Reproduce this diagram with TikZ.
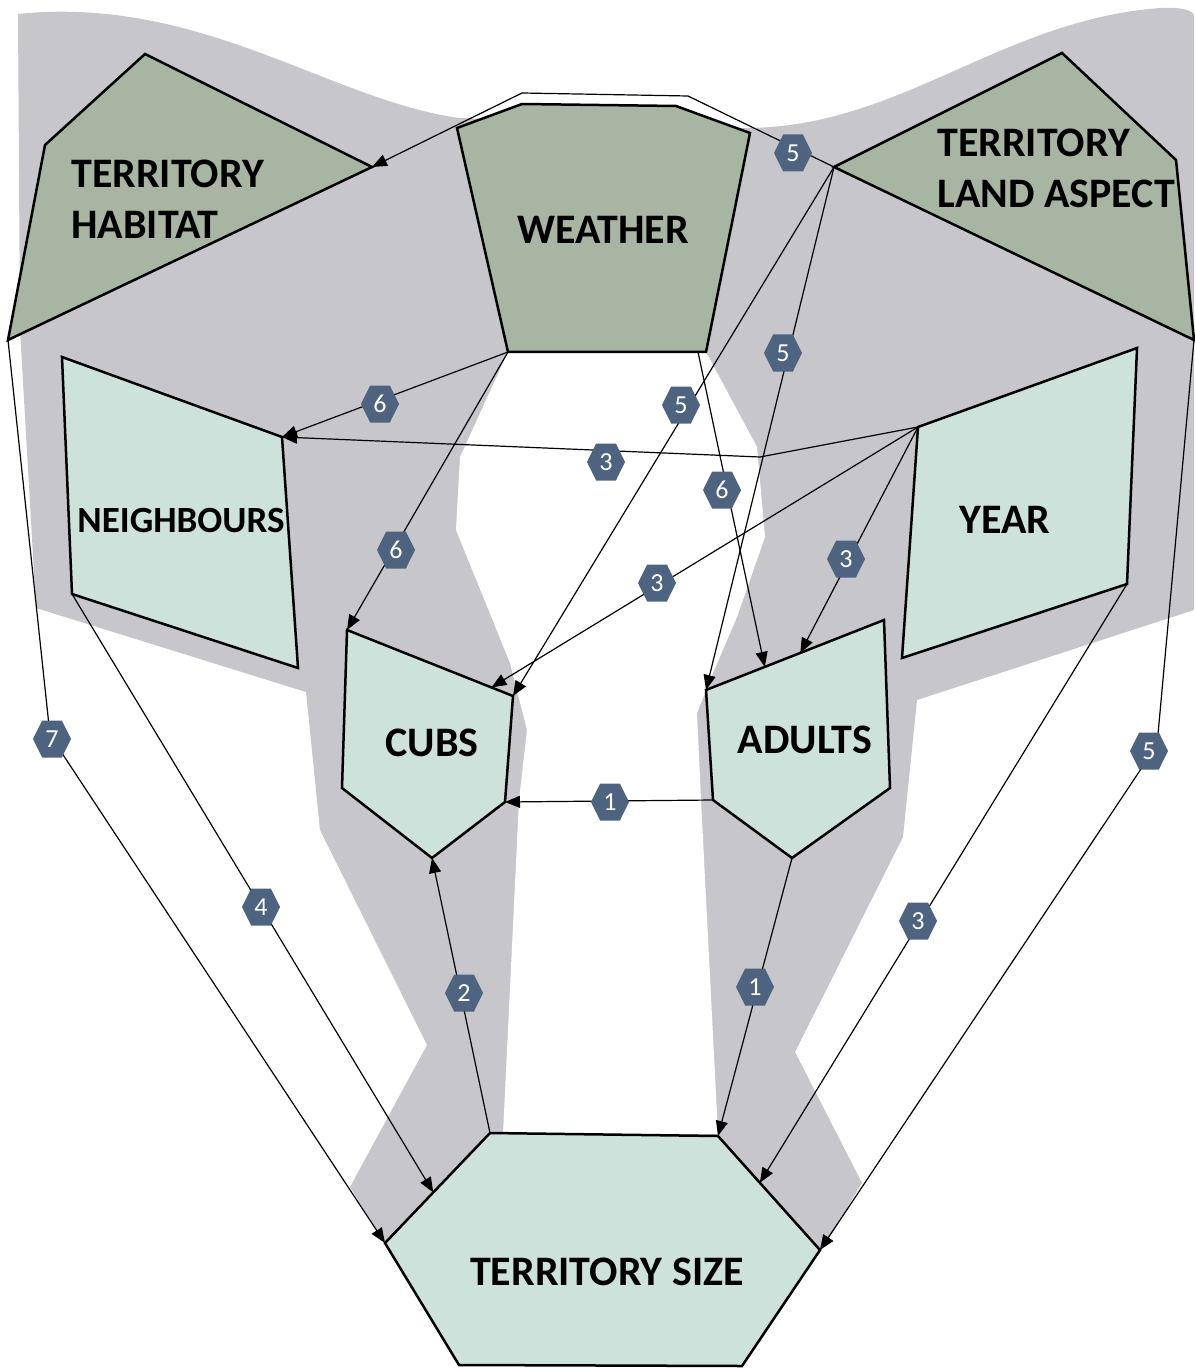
\documentclass[tikz,border=0pt]{standalone}
\usepackage{fontspec}
\setmainfont{Carlito}
\usetikzlibrary{arrows.meta,calc}

\definecolor{maskgray}{RGB}{199,198,203}
\definecolor{sage}{RGB}{168,181,163}
\definecolor{mint}{RGB}{204,226,218}
\definecolor{badgeblue}{RGB}{77,99,128}

\begin{document}
\begin{tikzpicture}[x=0.5pt,y=-0.5pt,
  shapeline/.style={draw=black, line width=1.25pt, line join=miter},
  factor/.style={shapeline, fill=sage},
  group/.style={shapeline, fill=mint},
  lbl/.style={font=\bfseries\fontsize{21}{25.5}\selectfont, inner sep=0pt, align=left},
  smalllbl/.style={lbl, font=\bfseries\fontsize{18.5}{22}\selectfont},
  conn/.style={draw=black, line width=0.6pt, -{Triangle[length=7.5pt,width=6pt]}},
  badge/.style={minimum width=19pt, minimum height=18.5pt, inner sep=0pt,
    text=white, font=\fontsize{13}{13}\selectfont,
    path picture={\fill[badgeblue]
      (path picture bounding box.west)
      -- ($(path picture bounding box.north west)!0.24!(path picture bounding box.north east)$)
      -- ($(path picture bounding box.north west)!0.76!(path picture bounding box.north east)$)
      -- (path picture bounding box.east)
      -- ($(path picture bounding box.south west)!0.76!(path picture bounding box.south east)$)
      -- ($(path picture bounding box.south west)!0.24!(path picture bounding box.south east)$)
      -- cycle;}}
]
\useasboundingbox (0,0) rectangle (1194,1369);

% grey mask behind the model
\fill[maskgray] (18,14) .. controls (200,-5) and (330,100) .. (459,118)
  -- (745,128) .. controls (900,128) and (1000,20) .. (1160,8)
  .. controls (1180,7) and (1194,10) .. (1194,16)
  -- (1194,610) -- (917,700) -- (903,837) -- (795,1052) -- (862,1183)
  -- (820,1252) -- (385,1245) -- (350,1187) -- (427,1045) -- (320,830)
  -- (306,692) -- (36,608) -- (20,330) -- cycle;
% open centre of the mask
\fill[white] (508,352) -- (460,457) -- (456,530) -- (510,663) -- (527,730)
  -- (519,800) -- (503,1134) -- (718,1134) -- (701,800) -- (697,713)
  -- (713,673) -- (737,617) -- (765,537) -- (757,447) -- (706,352) -- cycle;

% corner points of the boxes
\coordinate (hab-t) at (145,54);
\coordinate (hab-r) at (372,167);
\coordinate (hab-bl) at (8,340);
\coordinate (hab-l) at (45,145);

\coordinate (wea-tl) at (457,128);
\coordinate (wea-t1) at (522,104);
\coordinate (wea-t2) at (676,106);
\coordinate (wea-tr) at (750,133);
\coordinate (wea-br) at (706,352);
\coordinate (wea-bl) at (508,352);
\coordinate (wea-bo) at (698,352);

\coordinate (la-t) at (1062,53);
\coordinate (la-tr) at (1176,160);
\coordinate (la-br) at (1194,340);
\coordinate (la-l) at (834,167);

\coordinate (nb-tl) at (62,357);
\coordinate (nb-tr) at (282,437);
\coordinate (nb-br) at (298,668);
\coordinate (nb-bl) at (72,594);

\coordinate (yr-tr) at (1137,348);
\coordinate (yr-br) at (1127,584);
\coordinate (yr-bl) at (902,658);
\coordinate (yr-tl) at (918,427);

\coordinate (cb-tl) at (347,630);
\coordinate (cb-tr) at (513,696);
\coordinate (cb-r) at (505,802);
\coordinate (cb-b) at (432,858);
\coordinate (cb-l) at (342,788);

\coordinate (ad-tl) at (706,690);
\coordinate (ad-tr) at (884,620);
\coordinate (ad-r) at (890,788);
\coordinate (ad-b) at (792,858);
\coordinate (ad-l) at (713,800);

\coordinate (ts-tl) at (490,1133);
\coordinate (ts-tr) at (718,1136);
\coordinate (ts-r) at (820,1250);
\coordinate (ts-br) at (742,1366);
\coordinate (ts-bl) at (459,1365);
\coordinate (ts-l) at (385,1243);

% boxes
\path[factor] (hab-t) -- (hab-r) -- (hab-bl) -- (hab-l) -- cycle;
\path[factor] (wea-tl) -- (wea-t1) -- (wea-t2) -- (wea-tr) -- (wea-br) -- (wea-bl) -- cycle;
\path[factor] (la-t) -- (la-tr) -- (la-br) -- (la-l) -- cycle;
\path[group] (nb-tl) -- (nb-tr) -- (nb-br) -- (nb-bl) -- cycle;
\path[group] (yr-tr) -- (yr-br) -- (yr-bl) -- (yr-tl) -- cycle;
\path[group] (cb-tl) -- (cb-tr) -- (cb-r) -- (cb-b) -- (cb-l) -- cycle;
\path[group] (ad-tl) -- (ad-tr) -- (ad-r) -- (ad-b) -- (ad-l) -- cycle;
\path[group] (ts-tl) -- (ts-tr) -- (ts-r) -- (ts-br) -- (ts-bl) -- (ts-l) -- cycle;

% labels
\node[lbl, anchor=west] (hab-txt) at (71,199) {TERRITORY\\HABITAT};
\node[lbl] (wea-txt) at (603,230) {WEATHER};
\node[lbl, anchor=west] (la-txt) at (937,168) {TERRITORY\\LAND ASPECT};
\node[smalllbl] (nb-txt) at (181,521) {NEIGHBOURS};
\node[lbl] (yr-txt) at (1005,520) {YEAR};
\node[lbl] (cb-txt) at (432,743) {CUBS};
\node[lbl] (ad-txt) at (805,740) {ADULTS};
\node[lbl] (ts-txt) at (607,1272) {TERRITORY SIZE};

% arrow ends on box edges and bends
\coordinate (cb-in3) at ($(cb-tl)!0.87!(cb-tr)$);
\coordinate (ad-in6) at ($(ad-tl)!0.33!(ad-tr)$);
\coordinate (ad-in3) at ($(ad-tl)!0.53!(ad-tr)$);
\coordinate (ts-in4) at ($(ts-tl)!0.54!(ts-l)$);
\coordinate (ts-in3) at ($(ts-tr)!0.41!(ts-r)$);
\coordinate (over-r) at (688,96);
\coordinate (over-l) at (522,93);
\coordinate (yr-bend) at (760,457);
\coordinate (left-bend) at (50,735);
\coordinate (right-bend) at (1157,745);

% connectors
\draw[conn] (la-l) -- (over-r) -- (over-l) -- (hab-r);
\draw[conn] (la-l) -- (cb-tr);
\draw[conn] (la-l) -- (ad-tl);
\draw[conn] (la-br) -- (right-bend) -- (ts-r);
\draw[conn] (hab-bl) -- (left-bend) -- (ts-l);
\draw[conn] (wea-bl) -- (nb-tr);
\draw[conn] (wea-bl) -- (cb-tl);
\draw[conn] (wea-bo) -- (ad-in6);
\draw[conn] (yr-tl) -- (yr-bend) -- (nb-tr);
\draw[conn] (yr-tl) -- (cb-in3);
\draw[conn] (yr-tl) -- (ad-in3);
\draw[conn] (yr-br) -- (ts-in3);
\draw[conn] (nb-bl) -- (ts-in4);
\draw[conn] (ts-tl) -- (cb-b);
\draw[conn] (ad-l) -- (cb-r);
\draw[conn] (ad-b) -- (ts-tr);

% path-strength badges
\node[badge] (b5a) at (793,153) {5};
\node[badge] (b5b) at (681,405) {5};
\node[badge] (b5c) at (783,353) {5};
\node[badge] (b5d) at (1149,751) {5};
\node[badge] (b7) at (52,739) {7};
\node[badge] (b4) at (261,907) {4};
\node[badge] (b2) at (464,993) {2};
\node[badge] (b1a) at (610,802) {1};
\node[badge] (b1b) at (755,987) {1};
\node[badge] (b3a) at (918,921) {3};
\node[badge] (b3b) at (606,462) {3};
\node[badge] (b3c) at (657,583) {3};
\node[badge] (b3d) at (846,559) {3};
\node[badge] (b6a) at (380,404) {6};
\node[badge] (b6b) at (396,550) {6};
\node[badge] (b6c) at (722,490) {6};
\end{tikzpicture}
\end{document}
